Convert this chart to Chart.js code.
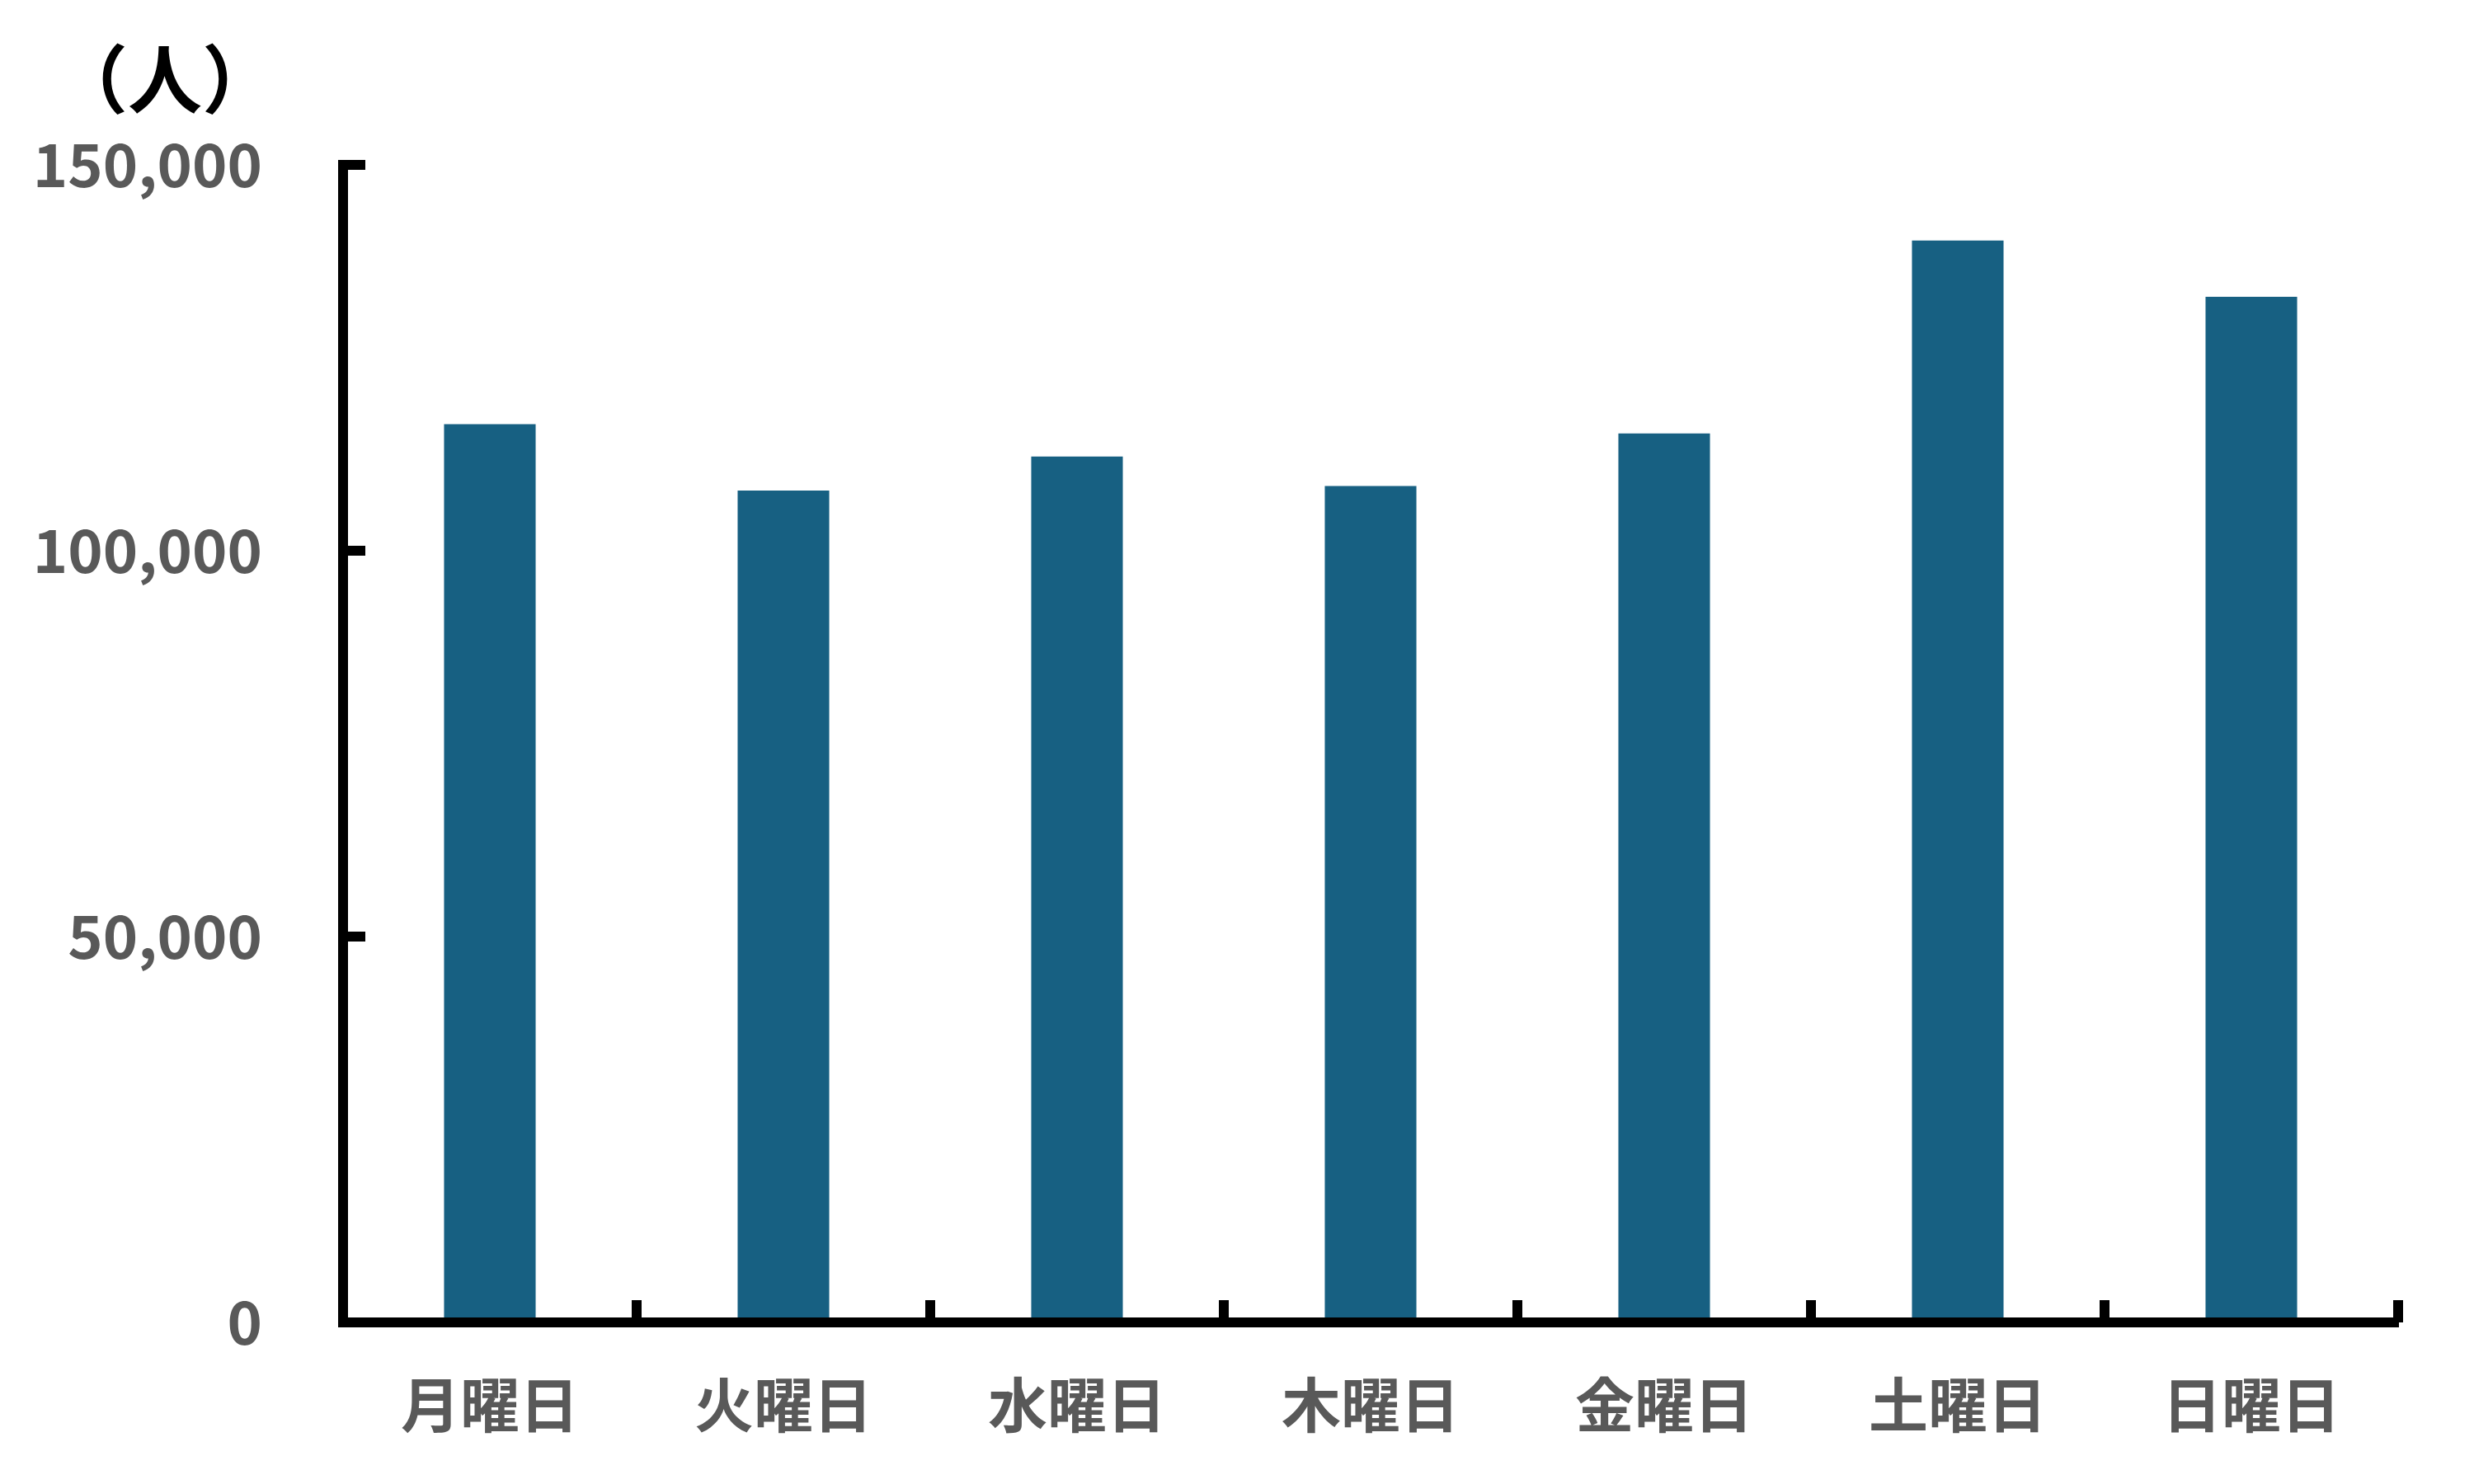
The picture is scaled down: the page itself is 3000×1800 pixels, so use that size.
<!DOCTYPE html>
<html>
<head>
<meta charset="utf-8">
<script src="https://cdn.jsdelivr.net/npm/chart.js@4/dist/chart.umd.min.js"></script>
<style>
	html, body { margin: 0; padding: 0; background: #fff; }
	#wrap { width: 3000px; height: 1800px; }
</style>
</head>
<body>
<div id="wrap"><canvas id="canvas-element" width="3000" height="1800"></canvas></div>
<script>
const kDays = ["月曜日", "火曜日", "水曜日", "木曜日", "金曜日", "土曜日", "日曜日"];
const kVisitors = [116400, 107800, 112200, 108400, 115200, 140200, 132900];
const kYTicks = [0, 50000, 100000, 150000];
const kUnitLabel = "（人）";
const kBarCol = "#176082";
const kTextCol = "#595959";

// inner tick marks + the unit label at the top left
const innerTicks = {
	id: "innerTicks",
	afterDraw(chart) {
		const ctx = chart.ctx;
		const area = chart.chartArea;
		const x = chart.scales.x;
		const y = chart.scales.y;

		ctx.save();
		ctx.strokeStyle = "#000";
		ctx.lineWidth = 12;
		ctx.lineCap = "butt";

		for (let i = 1; i <= kDays.length; ++i) {
			const px = x.getPixelForValue(i - 0.5);
			ctx.beginPath();
			ctx.moveTo(px, area.bottom);
			ctx.lineTo(px, area.bottom - 27);
			ctx.stroke();
		}

		for (const v of kYTicks) {
			if (v === 0) continue;
			const py = y.getPixelForValue(v);
			ctx.beginPath();
			ctx.moveTo(area.left, py);
			ctx.lineTo(area.left + 27, py);
			ctx.stroke();
		}

		ctx.fillStyle = "#000";
		ctx.font = "bold 90px 'Noto Sans CJK JP'";
		ctx.textAlign = "center";
		ctx.textBaseline = "middle";
		ctx.fillText(kUnitLabel, 200, 96);
		ctx.restore();
	}
};

const context = document.getElementById("canvas-element").getContext("2d");

new Chart(context, {
	type: "bar",
	data: {
		labels: kDays,
		datasets: [{
			data: kVisitors,
			backgroundColor: kBarCol,
			borderWidth: 0,
			categoryPercentage: 1,
			barPercentage: 0.312
		}]
	},
	options: {
		responsive: false,
		animation: false,
		layout: {
			padding: {top: 200, right: 92, bottom: 0, left: 0}
		},
		plugins: {
			legend: {display: false},
			tooltip: {enabled: false}
		},
		scales: {
			x: {
				offset: true,
				afterFit: (scale) => { scale.height = 196; },
				grid: {display: false, drawTicks: false},
				border: {display: true, color: "#000", width: 12, z: 1},
				ticks: {
					padding: 56,
					color: kTextCol,
					font: {family: "'Noto Sans CJK JP'", size: 72, weight: "bold"}
				}
			},
			y: {
				min: 0,
				max: 150000,
				afterFit: (scale) => { scale.width = 416; },
				afterBuildTicks: (scale) => {
					scale.ticks = kYTicks.map(v => ({value: v}));
				},
				grid: {display: false, drawTicks: false},
				border: {display: true, color: "#000", width: 12, z: 1},
				ticks: {
					padding: 98,
					color: kTextCol,
					font: {family: "'Noto Sans CJK JP'", size: 72, weight: "bold"},
					callback: (v) => Number(v).toLocaleString("en-US")
				}
			}
		}
	},
	plugins: [innerTicks]
});
</script>
</body>
</html>
